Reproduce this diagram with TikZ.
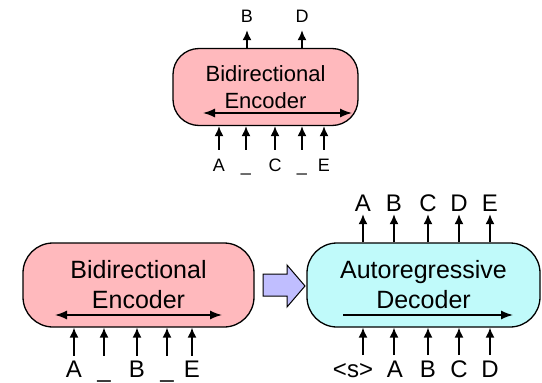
\documentclass[tikz,border=0pt]{standalone}
\usepackage{fontspec}
\setmainfont{Liberation Sans}
\usetikzlibrary{arrows.meta}
\definecolor{encpink}{RGB}{255,185,189}
\definecolor{deccyan}{RGB}{192,250,250}
\definecolor{flowblue}{RGB}{192,190,255}
\tikzset{
  block/.style={draw=black, line width=1.3pt, rounded corners=26pt, inner sep=0pt, align=center},
  toksmall/.style={inner sep=0pt, font=\fontsize{18}{21}\selectfont, text height=12.9pt, text depth=0pt, anchor=base},
  tokbig/.style={inner sep=0pt, font=\fontsize{24}{28}\selectfont, text height=17.2pt, text depth=0pt, anchor=base},
  feed/.style={line width=1.6pt, -{Latex[length=10pt,width=9pt]}},
  span/.style={line width=1.4pt, {Latex[length=12pt,width=9pt]}-{Latex[length=12pt,width=9pt]}},
  causal/.style={line width=1.4pt, -{Latex[length=12pt,width=9pt]}},
}
\begin{document}
\begin{tikzpicture}[x=1pt,y=-1pt]
  \useasboundingbox (0,0) rectangle (542,383);
  %%%%% TOP: masked encoder %%%%%
  \node[block, fill=encpink, minimum width=185pt, minimum height=77pt,
        font=\fontsize{22}{27}\selectfont] (enctop) at (265.5,87) {Bidirectional\\Encoder};
  \coordinate (etl) at (203,113);
  \coordinate (etr) at (352,113);
  \draw[span] (etl) -- (etr);

  \foreach \x/\t [count=\i] in {219/A,246/\_,275/C,302/\_,324/E}{
    \node[toksmall] (ti\i) at (\x,171) {\t};
    \draw[feed] ([yshift=8pt]ti\i.north) -- (ti\i |- enctop.south);
  }
  \foreach \x/\t [count=\i] in {247/B,302/D}{
    \node[toksmall] (to\i) at (\x,22) {\t};
    \draw[feed] (to\i |- enctop.north) -- ([yshift=-8pt]to\i.south);
  }

  %%%%% BOTTOM LEFT: encoder %%%%%
  \node[block, fill=encpink, minimum width=231pt, minimum height=84pt, rounded corners=30pt,
        font=\fontsize{25}{30}\selectfont] (enc) at (138.5,285) {Bidirectional\\Encoder};
  \coordinate (el) at (55,315);
  \coordinate (er) at (222,315);
  \draw[span] (el) -- (er);

  \foreach \x/\t [count=\i] in {74/A,104/\_,137/B,167/\_,192/E}{
    \node[tokbig] (ei\i) at (\x,377) {\t};
    \draw[feed] ([yshift=4pt]ei\i.north) -- (ei\i |- enc.south);
  }

  %%%%% hand-over arrow %%%%%
  \draw[fill=flowblue, line width=1pt, line join=miter]
    (263,274) -- (287,274) -- (287,265) -- (305,286) -- (287,307) -- (287,296) -- (263,296) -- cycle;

  %%%%% BOTTOM RIGHT: decoder %%%%%
  \node[block, fill=deccyan, minimum width=233pt, minimum height=84pt, rounded corners=30pt,
        font=\fontsize{25}{30}\selectfont] (dec) at (423.5,285) {Autoregressive\\Decoder};
  \coordinate (dl) at (343,315);
  \coordinate (dr) at (513,315);
  \draw[causal] (dl) -- (dr);

  \foreach \x/\t [count=\i] in {363/A,394/B,428/C,459/D,490/E}{
    \node[tokbig] (do\i) at (\x,211) {\t};
    \draw[feed] (do\i |- dec.north) -- ([yshift=-3pt]do\i.south);
  }
  \foreach \x/\lx/\t [count=\i] in {363/353/<s>,394/395/A,428/428/B,459/459/C,490/490/D}{
    \node[tokbig] (di\i) at (\lx,377) {\t};
    \coordinate (dk\i) at (\x,355);
    \draw[feed] (dk\i) -- (dk\i |- dec.south);
  }
\end{tikzpicture}
\end{document}
